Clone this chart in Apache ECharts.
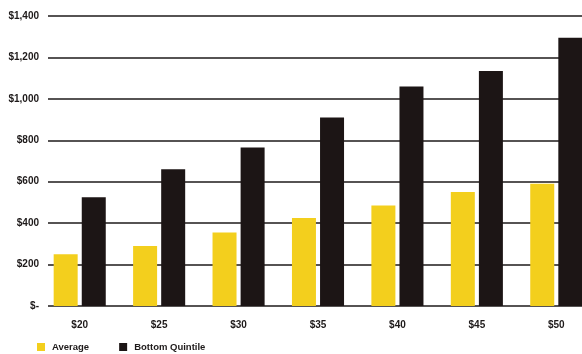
<!DOCTYPE html>
<html>
<head>
<meta charset="utf-8">
<script src="https://cdn.jsdelivr.net/npm/echarts@6/dist/echarts.min.js"></script>
<style>
  html, body { margin: 0; padding: 0; background: #fff; }
  #chart { width: 582px; height: 354px; }
</style>
</head>
<body>
<div id="chart"></div>
<script>
const categories = ['$20', '$25', '$30', '$35', '$40', '$45', '$50']
const averageValues = [250, 290, 355, 425, 485, 550, 590]
const bottomQuintileValues = [525, 660, 765, 910, 1060, 1135, 1295]
const yMax = 1400
const yStep = 200

const textColor = '#1e1a1a'
const font = 'Liberation Sans, Arial, sans-serif'

const myChart = echarts.init(document.getElementById('chart'))

const option = {
  animation: false,
  textStyle: { fontFamily: font },
  // grid 0 draws the value axis and gridlines, grid 1 the bars (runs past the right edge)
  grid: [
    { left: 48, right: 0, top: 16, bottom: 48 },
    { left: 40, width: 556, top: 16, bottom: 48, outerBoundsMode: 'none' }
  ],
  legend: {
    left: 37,
    top: 342,
    padding: 0,
    itemWidth: 8,
    itemHeight: 8,
    itemGap: 30,
    icon: 'rect',
    textStyle: { color: textColor, fontSize: 9.5, fontWeight: 'bold', fontFamily: font, padding: [0, 0, 0, 2] },
    data: ['Average', 'Bottom Quintile']
  },
  xAxis: [
    {
      gridIndex: 0,
      type: 'category',
      data: categories,
      show: false
    },
    {
      gridIndex: 1,
      type: 'category',
      data: categories,
      axisLine: { show: false },
      axisTick: { show: false },
      axisLabel: {
        margin: 14,
        color: textColor,
        fontSize: 10,
        fontWeight: 'bold',
        fontFamily: font
      }
    }
  ],
  yAxis: [
    {
      gridIndex: 0,
      type: 'value',
      min: 0,
      max: yMax,
      interval: yStep,
      axisLine: { show: false },
      axisTick: { show: false },
      axisLabel: {
        margin: 9,
        color: textColor,
        fontSize: 10,
        fontWeight: 'bold',
        fontFamily: font,
        formatter: function (v) {
          return v === 0 ? '$-' : '$' + v.toLocaleString('en-US')
        }
      },
      splitLine: { lineStyle: { color: '#1e1a1a', width: 1.6 } }
    },
    {
      gridIndex: 1,
      type: 'value',
      min: 0,
      max: yMax,
      interval: yStep,
      show: false,
      splitLine: { show: false }
    }
  ],
  series: [
    {
      name: 'Average',
      type: 'bar',
      xAxisIndex: 1,
      yAxisIndex: 1,
      barWidth: 24,
      barGap: '17%',
      itemStyle: { color: '#f3cf1d' },
      data: averageValues
    },
    {
      name: 'Bottom Quintile',
      type: 'bar',
      xAxisIndex: 1,
      yAxisIndex: 1,
      barWidth: 24,
      barGap: '17%',
      itemStyle: { color: '#1c1515' },
      data: bottomQuintileValues
    }
  ]
}

myChart.setOption(option)
</script>
</body>
</html>
